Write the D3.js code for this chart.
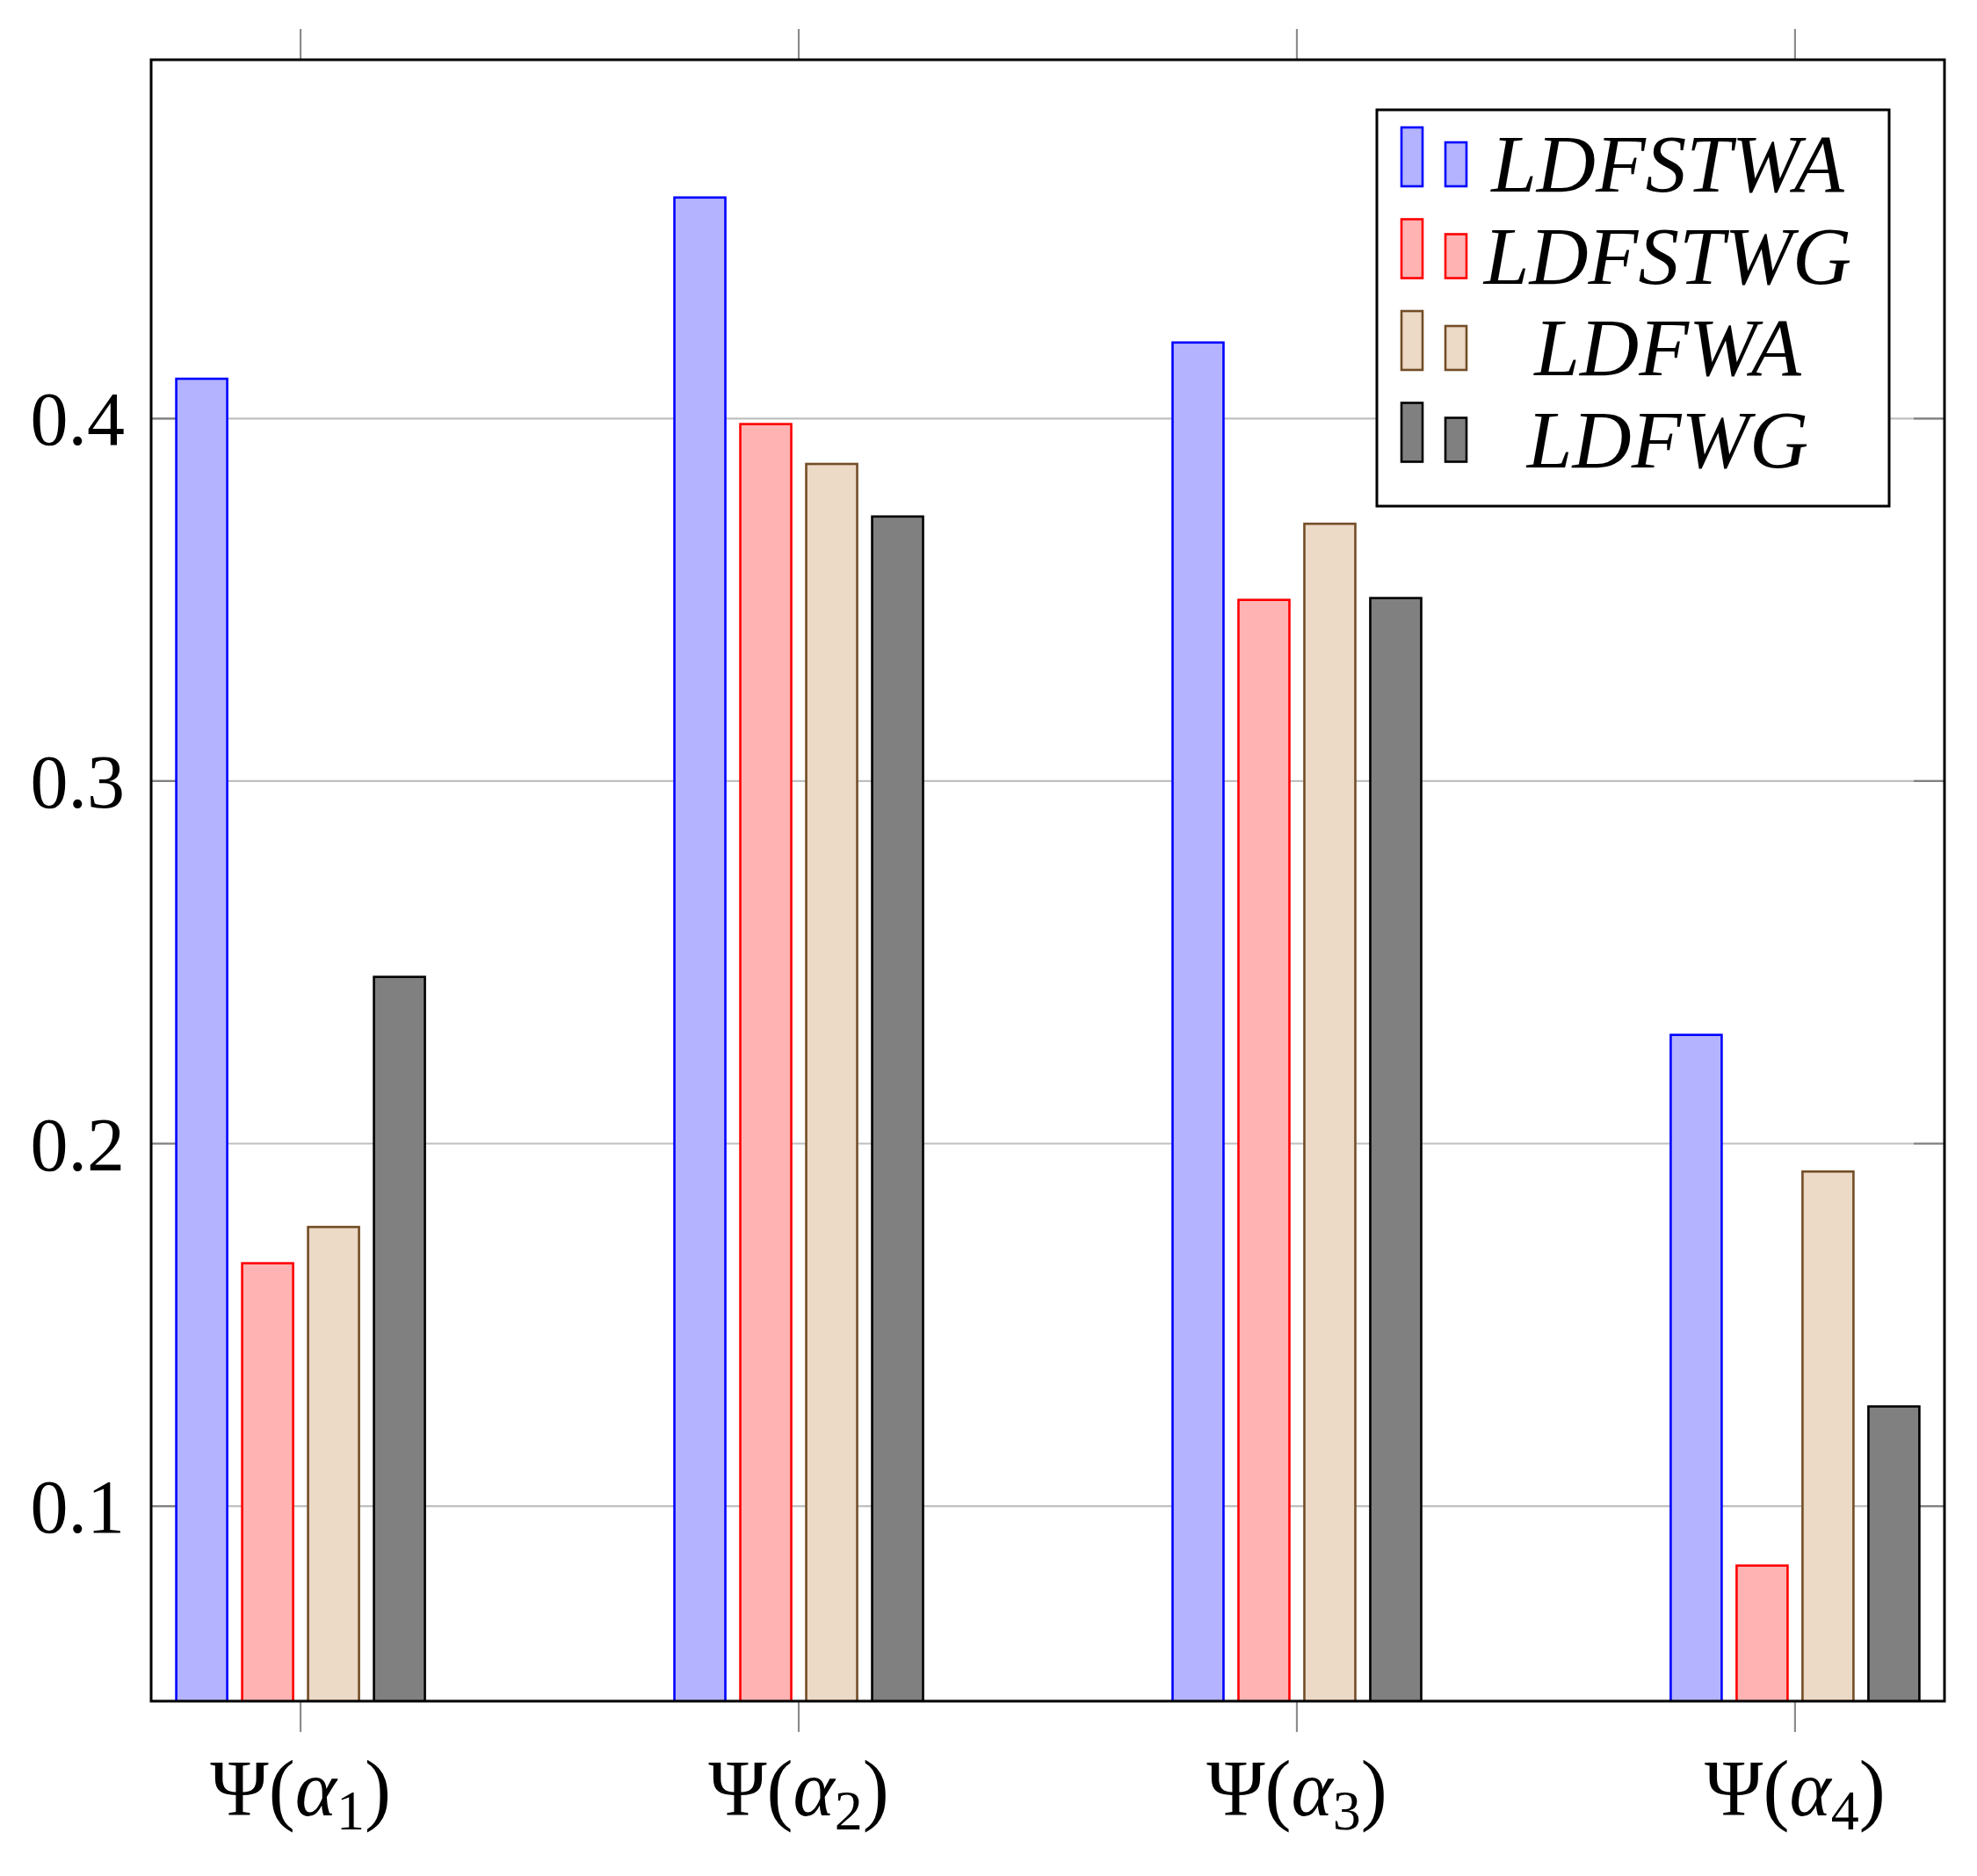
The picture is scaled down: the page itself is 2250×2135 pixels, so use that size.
<!DOCTYPE html>
<html>
<head>
<meta charset="utf-8">
<script src="https://cdn.jsdelivr.net/npm/d3@7"></script>
<style>
  html, body { margin: 0; padding: 0; background: #fff; }
  svg { display: block; }
</style>
</head>
<body>
<svg id="chart" width="2250" height="2135"></svg>
<script>
// ---------------- data ----------------
const categoryIndex = [1, 2, 3, 4];
const categorySubs = ["1", "2", "3", "4"];
const seriesNames = ["LDFSTWA", "LDFSTWG", "LDFWA", "LDFWG"];
const LDFSTWA = [0.411, 0.461, 0.421, 0.230];
const LDFSTWG = [0.167, 0.3985, 0.350, 0.0836];
const LDFWA  = [0.177, 0.3875, 0.371, 0.1923];
const LDFWG  = [0.246, 0.373, 0.3505, 0.1275];
const yTicks = [0.1, 0.2, 0.3, 0.4];
const yTickLabels = ["0.1", "0.2", "0.3", "0.4"];
const yDomain = [0.0462, 0.499];
const xDomain = [0.7, 4.3];

const seriesValues = [LDFSTWA, LDFSTWG, LDFWA, LDFWG];
const fills = ["#b3b3ff", "#ffb3b3", "#ecd9c6", "#808080"];
const strokes = ["#0000ff", "#ff0000", "#734d26", "#000000"];

// ---------------- layout ----------------
const plot = { left: 172, right: 2213, top: 68, bottom: 1936 };
const svg = d3.select("#chart");
const serif = "'Liberation Serif', 'DejaVu Serif', serif";

const x = d3.scaleLinear().domain(xDomain).range([plot.left, plot.right]);
const y = d3.scaleLinear().domain(yDomain).range([plot.bottom, plot.top]);
const step = 75;       // px between bar centres in a group
const barW = 58;       // bar width
const offset = d3.scaleLinear().domain([0, 3]).range([-1.5 * step, 1.5 * step]);

const defs = svg.append("defs");
defs.append("clipPath").attr("id", "plotclip")
  .append("rect").attr("x", plot.left).attr("y", plot.top)
  .attr("width", plot.right - plot.left).attr("height", plot.bottom - plot.top);

// grid
svg.append("g").selectAll("line").data(yTicks).join("line")
  .attr("x1", plot.left).attr("x2", plot.right)
  .attr("y1", d => y(d)).attr("y2", d => y(d))
  .attr("stroke", "#bfbfbf").attr("stroke-width", 2.2);

// y ticks (inside, both sides)
const tickLen = 35;
const yt = svg.append("g");
yTicks.forEach(v => {
  yt.append("line").attr("x1", plot.left).attr("x2", plot.left + tickLen)
    .attr("y1", y(v)).attr("y2", y(v)).attr("stroke", "#808080").attr("stroke-width", 2.2);
  yt.append("line").attr("x1", plot.right - tickLen).attr("x2", plot.right)
    .attr("y1", y(v)).attr("y2", y(v)).attr("stroke", "#808080").attr("stroke-width", 2.2);
});

// x ticks (outside, top and bottom)
const xt = svg.append("g");
categoryIndex.forEach(c => {
  xt.append("line").attr("x1", x(c)).attr("x2", x(c))
    .attr("y1", plot.top - tickLen).attr("y2", plot.top)
    .attr("stroke", "#8c8c8c").attr("stroke-width", 2.2);
  xt.append("line").attr("x1", x(c)).attr("x2", x(c))
    .attr("y1", plot.bottom).attr("y2", plot.bottom + tickLen)
    .attr("stroke", "#8c8c8c").attr("stroke-width", 2.2);
});

// bars
const bars = svg.append("g").attr("clip-path", "url(#plotclip)");
seriesValues.forEach((vals, si) => {
  bars.append("g").selectAll("rect").data(vals).join("rect")
    .attr("x", (d, i) => x(categoryIndex[i]) + offset(si) - barW / 2)
    .attr("width", barW)
    .attr("y", d => y(d))
    .attr("height", d => y(yDomain[0]) - y(d) + 5)
    .attr("fill", fills[si])
    .attr("stroke", strokes[si])
    .attr("stroke-width", 2.6);
});

// axis frame
svg.append("rect").attr("x", plot.left).attr("y", plot.top)
  .attr("width", plot.right - plot.left).attr("height", plot.bottom - plot.top)
  .attr("fill", "none").attr("stroke", "#000").attr("stroke-width", 3);

// y tick labels
svg.append("g").selectAll("text").data(yTicks).join("text")
  .attr("x", plot.left - 30).attr("y", d => y(d) + 30)
  .attr("text-anchor", "end")
  .attr("font-family", serif).attr("font-size", 86)
  .attr("fill", "#000")
  .text((d, i) => yTickLabels[i]);

// x tick labels: Ψ(α_n)
categoryIndex.forEach((c, i) => {
  const t = svg.append("text")
    .attr("x", x(c)).attr("y", 2066)
    .attr("text-anchor", "middle")
    .attr("font-family", serif).attr("font-size", 90).attr("fill", "#000");
  t.append("tspan").text("Ψ(");
  t.append("tspan").attr("font-style", "italic").text("α");
  t.append("tspan").attr("font-size", 64).attr("dy", 16).text(categorySubs[i]);
  t.append("tspan").attr("dy", -16).text(")");
});

// legend
const lg = svg.append("g");
const legBox = { x: 1567, y: 125, w: 583, h: 451 };
lg.append("rect").attr("x", legBox.x).attr("y", legBox.y)
  .attr("width", legBox.w).attr("height", legBox.h)
  .attr("fill", "#fff").attr("stroke", "#000").attr("stroke-width", 3);
const rowH = 104.5;
seriesNames.forEach((name, si) => {
  const base = 212 + si * rowH;
  lg.append("rect").attr("x", 1595).attr("y", base - 67)
    .attr("width", 24).attr("height", 67)
    .attr("fill", fills[si]).attr("stroke", strokes[si]).attr("stroke-width", 2.6);
  lg.append("rect").attr("x", 1645).attr("y", base - 50)
    .attr("width", 24).attr("height", 50)
    .attr("fill", fills[si]).attr("stroke", strokes[si]).attr("stroke-width", 2.6);
  lg.append("text").attr("x", 1898).attr("y", base + 6)
    .attr("text-anchor", "middle")
    .attr("font-family", serif).attr("font-style", "italic").attr("font-size", 93)
    .attr("fill", "#000").text(name);
});
</script>
</body>
</html>
